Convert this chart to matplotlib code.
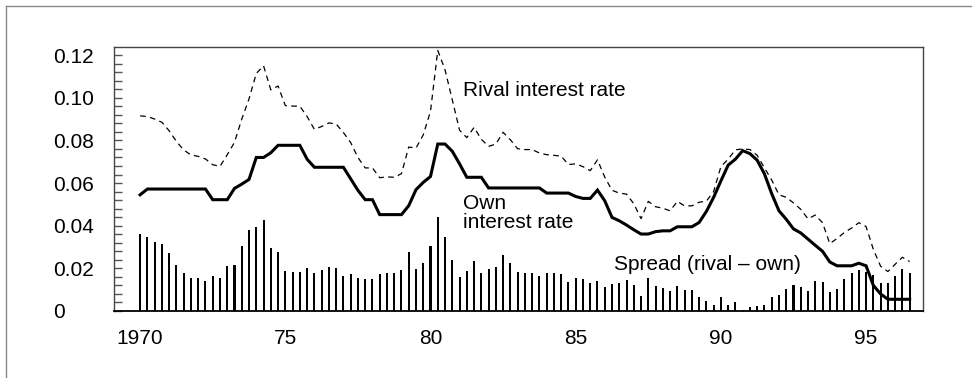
import numpy as np
import matplotlib.pyplot as plt
from matplotlib.lines import Line2D

plt.rcParams['font.family'] = ['Liberation Sans', 'DejaVu Sans']

# quarterly observations, 1970Q1 .. 1996Q3
quarters = np.arange(1970, 1996.6, 0.25)

own_rate = [
    0.0545, 0.0572, 0.0572, 0.0572, 0.0572, 0.0572, 0.0572, 0.0572, 0.0572, 0.0572,
    0.0522, 0.0522, 0.0522, 0.0575, 0.0595, 0.0617, 0.0720, 0.0720, 0.0742, 0.0777,
    0.0777, 0.0777, 0.0777, 0.0712, 0.0674, 0.0674, 0.0674, 0.0674, 0.0674, 0.0620,
    0.0566, 0.0522, 0.0522, 0.0452, 0.0452, 0.0452, 0.0452, 0.0494, 0.0569, 0.0603,
    0.0631, 0.0783, 0.0783, 0.0749, 0.0690, 0.0627, 0.0627, 0.0627, 0.0577, 0.0577,
    0.0577, 0.0577, 0.0577, 0.0577, 0.0577, 0.0577, 0.0553, 0.0553, 0.0553, 0.0553,
    0.0537, 0.0528, 0.0528, 0.0567, 0.0517, 0.0439, 0.0423, 0.0403, 0.0381, 0.0361,
    0.0361, 0.0372, 0.0376, 0.0376, 0.0395, 0.0395, 0.0395, 0.0415, 0.0467, 0.0533,
    0.0610, 0.0684, 0.0712, 0.0752, 0.0738, 0.0707, 0.0643, 0.0550, 0.0470, 0.0430,
    0.0385, 0.0366, 0.0337, 0.0308, 0.0280, 0.0230, 0.0212, 0.0212, 0.0212, 0.0224,
    0.0212, 0.0120, 0.0080, 0.0055, 0.0055, 0.0055, 0.0055,
]

rival_rate = [
    0.0915, 0.0912, 0.0900, 0.0885, 0.0845, 0.0795, 0.0755, 0.0732, 0.0725, 0.0713,
    0.0686, 0.0678, 0.0733, 0.0791, 0.0900, 0.0995, 0.1114, 0.1150, 0.1037, 0.1055,
    0.0963, 0.0961, 0.0960, 0.0912, 0.0852, 0.0865, 0.0882, 0.0877, 0.0837, 0.0790,
    0.0720, 0.0671, 0.0671, 0.0625, 0.0629, 0.0627, 0.0644, 0.0769, 0.0764, 0.0826,
    0.0937, 0.1222, 0.1131, 0.0990, 0.0848, 0.0813, 0.0861, 0.0805, 0.0772, 0.0783,
    0.0838, 0.0803, 0.0761, 0.0757, 0.0757, 0.0741, 0.0733, 0.0730, 0.0726, 0.0687,
    0.0690, 0.0677, 0.0658, 0.0709, 0.0628, 0.0566, 0.0553, 0.0548, 0.0503, 0.0433,
    0.0514, 0.0489, 0.0482, 0.0470, 0.0514, 0.0493, 0.0493, 0.0510, 0.0515, 0.0560,
    0.0677, 0.0712, 0.0756, 0.0760, 0.0757, 0.0730, 0.0671, 0.0614, 0.0545, 0.0533,
    0.0507, 0.0477, 0.0432, 0.0450, 0.0414, 0.0316, 0.0340, 0.0368, 0.0389, 0.0414,
    0.0396, 0.0289, 0.0210, 0.0185, 0.0219, 0.0252, 0.0232,
]

spread = [
    0.0361, 0.0345, 0.0322, 0.0313, 0.0270, 0.0217, 0.0178, 0.0156, 0.0155, 0.0141,
    0.0164, 0.0156, 0.0211, 0.0216, 0.0305, 0.0378, 0.0394, 0.0428, 0.0295, 0.0278,
    0.0186, 0.0184, 0.0183, 0.0200, 0.0178, 0.0191, 0.0208, 0.0203, 0.0163, 0.0172,
    0.0153, 0.0149, 0.0149, 0.0173, 0.0177, 0.0177, 0.0192, 0.0275, 0.0195, 0.0223,
    0.0306, 0.0439, 0.0348, 0.0241, 0.0158, 0.0186, 0.0234, 0.0178, 0.0195, 0.0206,
    0.0261, 0.0226, 0.0184, 0.0180, 0.0180, 0.0164, 0.0180, 0.0177, 0.0173, 0.0134,
    0.0153, 0.0149, 0.0130, 0.0142, 0.0111, 0.0127, 0.0130, 0.0145, 0.0122, 0.0072,
    0.0153, 0.0117, 0.0106, 0.0095, 0.0119, 0.0098, 0.0098, 0.0067, 0.0048, 0.0028,
    0.0067, 0.0028, 0.0044, 0.0005, 0.0017, 0.0023, 0.0028, 0.0064, 0.0075, 0.0103,
    0.0122, 0.0111, 0.0095, 0.0142, 0.0134, 0.0088, 0.0103, 0.0150, 0.0177, 0.0192,
    0.0184, 0.0169, 0.0130, 0.0130, 0.0164, 0.0197, 0.0177,
]

year_ticks = [1970, 1975, 1980, 1985, 1990, 1995]
year_labels = ['1970', '75', '80', '85', '90', '95']
rate_ticks = [0, 0.02, 0.04, 0.06, 0.08, 0.10, 0.12]
rate_labels = ['0', '0.02', '0.04', '0.06', '0.08', '0.10', '0.12']

fig = plt.figure(figsize=(9.72, 3.78), dpi=100)
ax = fig.add_axes([114 / 972, 1 - 311 / 378, 809 / 972, 264 / 378])

ax.bar(quarters, spread, width=0.07, color='black', linewidth=0)
ax.plot(quarters, own_rate, color='black', lw=2.2, solid_joinstyle='miter')
ax.plot(quarters, rival_rate, color='black', lw=0.9, dashes=(4.5, 3.5))

ax.set_xlim(1969.1, 1996.96)
ax.set_ylim(0, 0.1238)

ax.set_xticks(year_ticks)
ax.set_xticklabels(year_labels, fontsize=15)
ax.tick_params(axis='x', length=0, pad=13)

ax.set_yticks(rate_ticks)
ax.set_yticklabels(rate_labels, fontsize=15)
ax.set_yticks(np.arange(0.004, 0.1238, 0.004), minor=True)
ax.tick_params(axis='y', which='both', direction='in', length=5.5, width=1.0,
               color='#555555', pad=44)
for lab in ax.get_yticklabels():
    lab.set_horizontalalignment('left')

for side in ['left', 'top', 'right']:
    ax.spines[side].set_color('#444444')
    ax.spines[side].set_linewidth(1.0)
ax.spines['bottom'].set_linewidth(1.3)

ax.text(1981.12, 0.1036, 'Rival interest rate', fontsize=15, va='center')
ax.text(1981.12, 0.0459, 'Own\ninterest rate', fontsize=15, va='center',
        linespacing=1.0)
ax.text(1986.32, 0.0216, 'Spread (rival \u2013 own)', fontsize=15, va='center')

# outer frame, only its left and top edges fall inside the picture
fig.add_artist(Line2D([6 / 972, 6 / 972], [0, 1 - 6 / 378], color='#888888',
                      lw=1.0, transform=fig.transFigure))
fig.add_artist(Line2D([6 / 972, 1], [1 - 6 / 378, 1 - 6 / 378], color='#888888',
                      lw=1.0, transform=fig.transFigure))

fig.savefig('out.png', dpi=100)
